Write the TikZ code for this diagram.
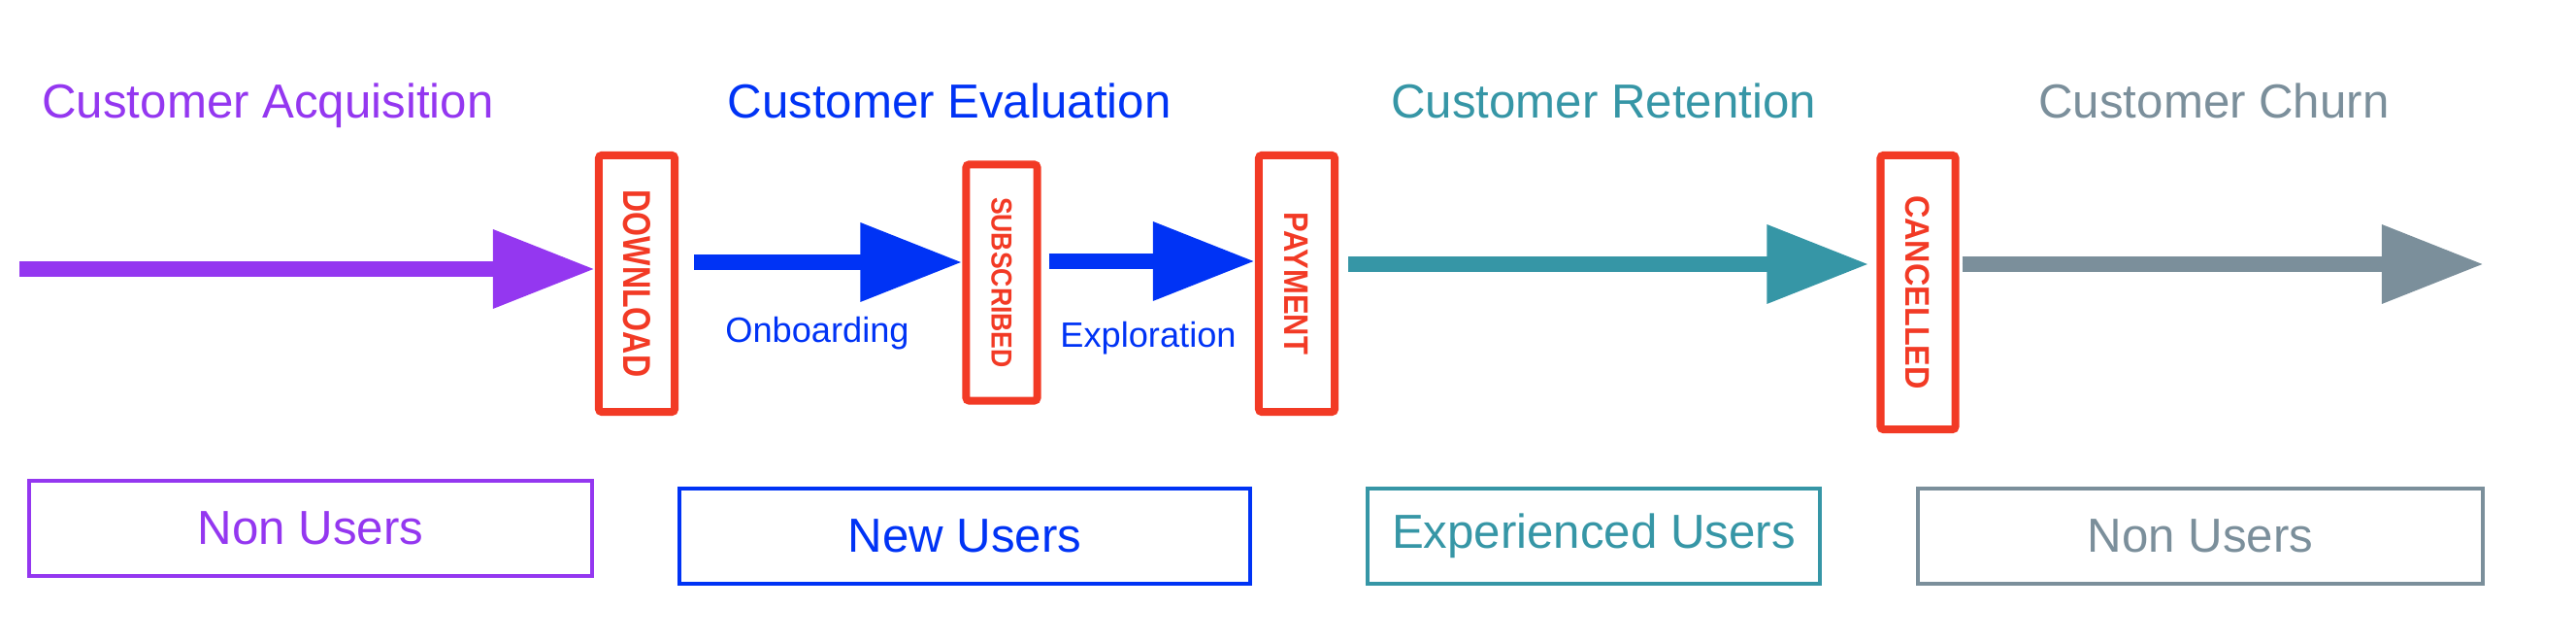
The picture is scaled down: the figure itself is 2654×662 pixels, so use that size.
\documentclass[tikz,border=0pt]{standalone}
\usepackage{fontspec}
\setmainfont{Liberation Sans}
\usepackage{graphicx}
\usetikzlibrary{arrows.meta}

\definecolor{acqpurple}{HTML}{9437F0}
\definecolor{evalblue}{HTML}{0033F5}
\definecolor{retteal}{HTML}{3696A6}
\definecolor{churngray}{HTML}{7B8F9B}
\definecolor{eventred}{HTML}{F23A25}

\begin{document}
\begin{tikzpicture}[x=0.01cm,y=-0.01cm,
  phase/.style={anchor=base,font=\fontsize{14pt}{16pt}\selectfont},
  flow/.style={line width=0.165cm,-{Triangle[length=1.05cm,width=0.77cm]}},
  event/.style={draw=eventred,line width=0.08cm,rounded corners=0.03cm,inner sep=0pt,text=eventred},
  usergroup/.style={draw,line width=0.04cm,inner sep=0pt,minimum height=0.97cm,font=\fontsize{14pt}{16pt}\selectfont},
  phaselabel/.style={anchor=base,text=evalblue,font=\fontsize{10.3pt}{12pt}\selectfont}]
\useasboundingbox (0,0) rectangle (2654,662);

% phase titles
\node[phase,text=acqpurple] (acq) at (276,122) {Customer Acquisition};
\node[phase,text=evalblue] (eval) at (978,122) {Customer Evaluation};
\node[phase,text=retteal] (ret) at (1652,122) {Customer Retention};
\node[phase,text=churngray] (churn) at (2281,122) {Customer Churn};

% events
\node[event,minimum width=0.78cm,minimum height=2.64cm] (dl) at (656,292)
  {\rotatebox{-90}{\fontsize{11.4pt}{12pt}\selectfont\bfseries\scalebox{0.8}[1]{DOWNLOAD}}};
\node[event,minimum width=0.73cm,minimum height=2.43cm] (sub) at (1032,291)
  {\rotatebox{-90}{\fontsize{8.5pt}{10pt}\selectfont\bfseries\scalebox{0.89}[1]{SUBSCRIBED}}};
\node[event,minimum width=0.78cm,minimum height=2.64cm] (pay) at (1336,292)
  {\rotatebox{-90}{\fontsize{10pt}{12pt}\selectfont\bfseries\scalebox{0.88}[1]{PAYMENT}}};
\node[event,minimum width=0.77cm,minimum height=2.82cm] (can) at (1976,301)
  {\rotatebox{-90}{\fontsize{10pt}{12pt}\selectfont\bfseries\scalebox{0.92}[1]{CANCELLED}}};

% arrows
\coordinate (start) at (20,277);
\coordinate (finish) at (2559,272);
\draw[flow,draw=acqpurple,fill=acqpurple] (start) -- (dl.west |- start);
\draw[flow,draw=evalblue,fill=evalblue,shorten <=0.16cm] (dl.east |- 0,270) -- (sub.west |- 0,270);
\draw[flow,draw=evalblue,fill=evalblue,shorten <=0.08cm] (sub.east |- 0,269) -- (pay.west |- 0,269);
\draw[flow,draw=retteal,fill=retteal,shorten <=0.1cm,shorten >=0.08cm] (pay.east |- 0,272) -- (can.west |- 0,272);
\draw[flow,draw=churngray,fill=churngray,shorten <=0.03cm] (can.east |- finish) -- (finish);

\node[phaselabel] (onb) at (842,353) {Onboarding};
\node[phaselabel] (expl) at (1183,358) {Exploration};

% user groups
\node[usergroup,draw=acqpurple,text=acqpurple,minimum width=5.80cm,minimum height=0.98cm] (non1) at (320,544) {Non Users};
\node[usergroup,draw=evalblue,text=evalblue,minimum width=5.88cm] (new) at (994,552) {New Users};
\node[usergroup,draw=retteal,text=retteal,minimum width=4.66cm] (exp) at (1642,552) {Experienced Users};
\node[usergroup,draw=churngray,text=churngray,minimum width=5.81cm] (non2) at (2267,552) {Non Users};
\end{tikzpicture}
\end{document}
